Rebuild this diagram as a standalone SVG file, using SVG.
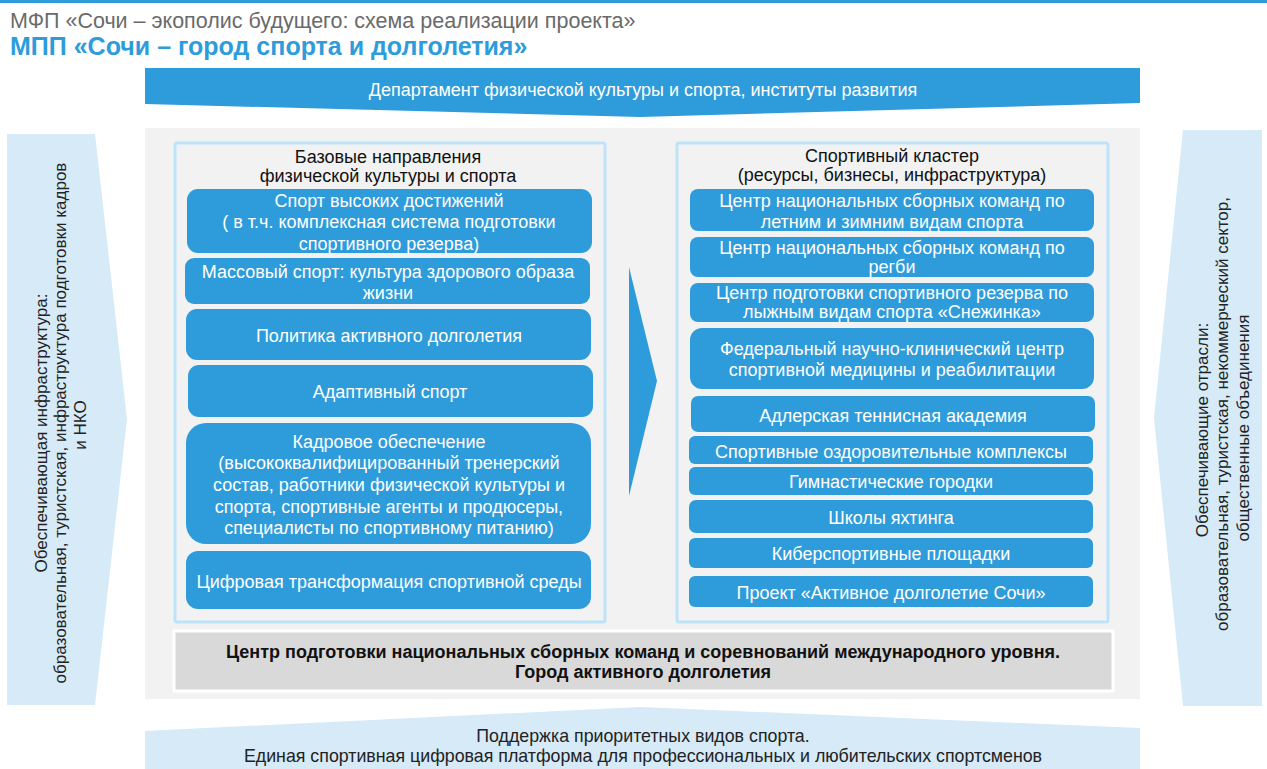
<svg xmlns="http://www.w3.org/2000/svg" width="1267" height="769" viewBox="0 0 1267 769">
<style>
text{font-family:"Liberation Sans",Arial,sans-serif;}
.bx{fill:#2E9CDB;}
.wt{fill:#ffffff;font-size:18px;text-anchor:middle;}
.hd{fill:#111111;font-size:18px;text-anchor:middle;}
.lb{fill:#D6EAF7;}
.side{fill:#222222;font-size:17px;text-anchor:middle;}
.pn{fill:#F2F2F2;stroke:#BDE3F9;stroke-width:3;}
.bt{fill:#111111;font-size:18px;font-weight:bold;text-anchor:middle;}
.ft{fill:#222222;font-size:17.8px;text-anchor:middle;}
</style>
<rect x="0" y="0" width="1267" height="3" fill="#2E9CDB"/>
<text x="10" y="28" font-size="21.5" fill="#6A6A6A">МФП «Сочи – экополис будущего: схема реализации проекта»</text>
<text x="10" y="55" font-size="25" font-weight="bold" fill="#2E9CDB">МПП «Сочи – город спорта и долголетия»</text>

<g id="top-banner">
<polygon class="bx" points="145,68 1140,68 1140,103 640,117 145,104"/>
<text class="wt" x="643" y="96">Департамент физической культуры и спорта, институты развития</text>
</g>

<rect x="145" y="128" width="995" height="571" fill="#F2F2F2"/>

<g id="left-arrow">
<polygon class="lb" points="7,134 95,134 127,419 95,705 7,705"/>
<text class="side" transform="translate(47,433) rotate(-90)">Обеспечивающая инфраструктура:</text>
<text class="side" transform="translate(66,423) rotate(-90)">образовательная, туристская, инфраструктура подготовки кадров</text>
<text class="side" transform="translate(86,425) rotate(-90)">и НКО</text>
</g>

<g id="right-arrow">
<polygon class="lb" points="1183,130 1262,130 1262,706 1183,706 1154,418"/>
<text class="side" transform="translate(1208,430) rotate(-90)">Обеспечивающие отрасли:</text>
<text class="side" transform="translate(1228,414) rotate(-90)">образовательная, туристская, некоммерческий сектор,</text>
<text class="side" transform="translate(1249,428) rotate(-90)">общественные объединения</text>
</g>

<g id="left-panel">
<rect class="pn" x="175" y="143" width="430" height="479" rx="2"/>
<text class="hd" x="388" y="163">Базовые направления</text>
<text class="hd" x="388" y="182">физической культуры и спорта</text>
</g>
<g id="l1"><rect class="bx" x="187" y="189" width="405" height="64" rx="11"/>
<text class="wt" x="389" y="207">Спорт высоких достижений</text>
<text class="wt" x="389" y="228">( в т.ч. комплексная система подготовки</text>
<text class="wt" x="389" y="250">спортивного резерва)</text></g>
<g id="l2"><rect class="bx" x="185" y="258" width="405" height="46" rx="9"/>
<text class="wt" x="388" y="278">Массовый спорт: культура здорового образа</text>
<text class="wt" x="388" y="299">жизни</text></g>
<g id="l3"><rect class="bx" x="186" y="309" width="405" height="51" rx="11"/>
<text class="wt" x="389" y="342">Политика активного долголетия</text></g>
<g id="l4"><rect class="bx" x="188" y="365" width="405" height="52" rx="11"/>
<text class="wt" x="390" y="398">Адаптивный спорт</text></g>
<g id="l5"><rect class="bx" x="186" y="423" width="405" height="121" rx="20"/>
<text class="wt" x="389" y="448">Кадровое обеспечение</text>
<text class="wt" x="389" y="469">(высококвалифицированный тренерский</text>
<text class="wt" x="389" y="491">состав, работники физической культуры и</text>
<text class="wt" x="389" y="513">спорта, спортивные агенты и продюсеры,</text>
<text class="wt" x="389" y="534">специалисты по спортивному питанию)</text></g>
<g id="l6"><rect class="bx" x="186" y="551" width="405" height="58" rx="12"/>
<text class="wt" x="389" y="588">Цифровая трансформация спортивной среды</text></g>

<g id="center-arrow">
<polygon class="bx" points="629,267 657,381 629,496"/>
</g>

<g id="right-panel">
<rect class="pn" x="677" y="143" width="431" height="479" rx="2"/>
<text class="hd" x="892" y="162">Спортивный кластер</text>
<text class="hd" x="892" y="181">(ресурсы, бизнесы, инфраструктура)</text>
</g>
<g id="r1"><rect class="bx" x="690" y="189" width="404" height="42" rx="8"/>
<text class="wt" x="892" y="207">Центр национальных сборных команд по</text>
<text class="wt" x="892" y="228">летним и зимним видам спорта</text></g>
<g id="r2"><rect class="bx" x="690" y="237" width="404" height="40" rx="8"/>
<text class="wt" x="892" y="254">Центр национальных сборных команд по</text>
<text class="wt" x="892" y="273">регби</text></g>
<g id="r3"><rect class="bx" x="690" y="283" width="404" height="39" rx="8"/>
<text class="wt" x="892" y="299">Центр подготовки спортивного резерва по</text>
<text class="wt" x="892" y="318">лыжным видам спорта «Снежинка»</text></g>
<g id="r4"><rect class="bx" x="690" y="328" width="404" height="61" rx="12"/>
<text class="wt" x="892" y="355">Федеральный научно-клинический центр</text>
<text class="wt" x="892" y="376">спортивной медицины и реабилитации</text></g>
<g id="r5"><rect class="bx" x="691" y="396" width="404" height="36" rx="7"/>
<text class="wt" x="893" y="422">Адлерская теннисная академия</text></g>
<g id="r6"><rect class="bx" x="689" y="436" width="404" height="28" rx="6"/>
<text class="wt" x="891" y="458">Спортивные оздоровительные комплексы</text></g>
<g id="r7"><rect class="bx" x="689" y="467" width="404" height="28" rx="6"/>
<text class="wt" x="891" y="488">Гимнастические городки</text></g>
<g id="r8"><rect class="bx" x="689" y="500" width="404" height="33" rx="7"/>
<text class="wt" x="891" y="524">Школы яхтинга</text></g>
<g id="r9"><rect class="bx" x="689" y="538" width="404" height="30" rx="6"/>
<text class="wt" x="891" y="560">Киберспортивные площадки</text></g>
<g id="r10"><rect class="bx" x="689" y="576" width="404" height="31" rx="6"/>
<text class="wt" x="891" y="599">Проект «Активное долголетие Сочи»</text></g>

<g id="bottom-center">
<rect x="174" y="631" width="939" height="60" fill="#D9D9D9" stroke="#FFFFFF" stroke-width="3"/>
<text class="bt" x="643" y="658">Центр подготовки национальных сборных команд и соревнований международного уровня.</text>
<text class="bt" x="643" y="678">Город активного долголетия</text>
</g>

<g id="bottom-banner">
<polygon class="lb" points="145,731 640,707 1140,728 1140,769 145,769"/>
<text class="ft" x="643" y="742">Поддержка приоритетных видов спорта.</text>
<text class="ft" x="643" y="762">Единая спортивная цифровая платформа для профессиональных и любительских спортсменов</text>
</g>
<g id="connectors"></g>
</svg>
